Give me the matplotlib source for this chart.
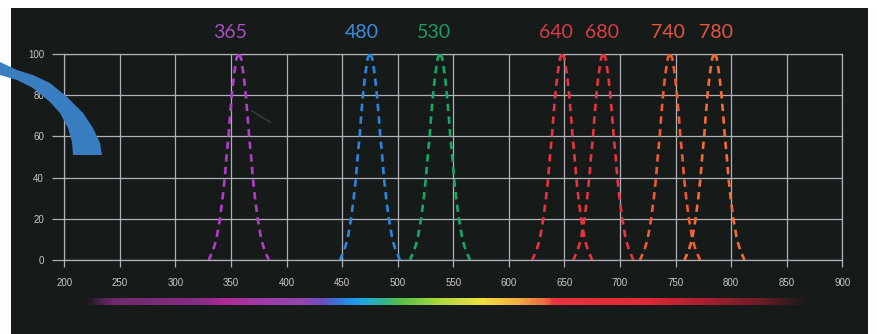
import numpy as np
import matplotlib
matplotlib.use("Agg")
import matplotlib.pyplot as plt
from matplotlib.patches import Rectangle, Polygon
from matplotlib.colors import LinearSegmentedColormap

# peak positions as they sit on the axis, and the labels printed above them
peak_centers = [357, 475, 538, 648, 685, 745, 785]
peak_labels = ['365', '480', '530', '640', '680', '740', '780']
label_x = [349, 468, 533, 642, 684, 743, 786]
line_colors = ['#b23ccc', '#2a85e0', '#14a865', '#e8323e', '#e8323e', '#f25a2e', '#f46a32']
label_colors = ['#a650c4', '#3a8ede', '#1a9e62', '#dc3c48', '#dc3c48', '#e25540', '#e25540']

# shape of one peak (offset in nm, intensity)
profile_offset = [-27, -23, -20.2, -17, -14.6, -12.6, -11.1, -9.3, -7.9, -6.3, -4.3, -2, 0,
                  2, 4.3, 6.3, 7.9, 9.3, 11.1, 12.6, 14.6, 17, 20.2, 23, 27]
profile_level = [0, 5, 10, 20, 30, 40, 50, 60, 70, 80, 90, 98, 100,
                 98, 90, 80, 70, 60, 50, 40, 30, 20, 10, 5, 0]

x_ticks = [200, 250, 300, 350, 400, 450, 500, 550, 600, 650, 700, 750, 800, 850, 900]
y_ticks = [0, 20, 40, 60, 80, 100]

# colour stops of the spectrum strip under the chart
spectrum_stops = [(0.0, '#1c1a1c'), (0.035, '#6e2a6c'), (0.16, '#8a2c86'), (0.19, '#b02896'),
                  (0.245, '#a03ca6'), (0.3, '#9446b0'), (0.33, '#6a50c2'), (0.355, '#2e7ee0'),
                  (0.382, '#20a6e6'), (0.41, '#2eb29a'), (0.44, '#5cc044'), (0.49, '#a8d840'),
                  (0.55, '#f0e040'), (0.6, '#f0b040'), (0.64, '#ee6a40'), (0.652, '#e8343e'),
                  (0.78, '#e22838'), (0.86, '#a82030'), (0.94, '#6e1c26'), (1.0, '#1e1a1c')]

W, H = 877, 334
grid_c = '#b0b0b8'
bg_c = '#161a19'

fig = plt.figure(figsize=(W / 100, H / 100), dpi=100, facecolor='white')

def fx(px):
    return px / W

def fy(py):
    return 1 - py / H

# dark panel of the photographed chart
fig.patches.append(Rectangle((fx(11), 0), fx(868 - 11), 1 - 8 / H,
                             transform=fig.transFigure, facecolor=bg_c,
                             edgecolor='none', zorder=-5))

ax = fig.add_axes([fx(64.3), fy(260), fx(842.3 - 64.3), (260 - 54) / H])
ax.set_zorder(1)
ax.set_facecolor('none')
ax.set_xlim(200, 900)
ax.set_ylim(0, 100)
ax.set_xticks(x_ticks)
ax.set_yticks(y_ticks)
ax.grid(True, color=grid_c, lw=0.9)
for s in ax.spines.values():
    s.set_color(grid_c)
    s.set_linewidth(0.9)
ax.tick_params(axis='x', direction='out', length=5, width=0.9, color=grid_c,
               labelcolor='#c8c8c8', labelsize=7, pad=8)
ax.tick_params(axis='y', direction='out', length=8.6, width=0.9, color=grid_c,
               labelcolor='#c8c8c8', labelsize=7, pad=6)
for lab in ax.get_xticklabels() + ax.get_yticklabels():
    lab.set_family('Liberation Sans')

offs = np.array(profile_offset)
lev = np.array(profile_level)
top = int(np.argmax(lev))
for c, lc in zip(peak_centers, line_colors):
    # draw each flank from the tip down so the dashes sit the same on both sides
    ax.plot(c + offs[top::-1], lev[top::-1], color=lc, lw=1.9, dashes=(2.8, 2.0), zorder=3)
    ax.plot(c + offs[top:], lev[top:], color=lc, lw=1.9, dashes=(2.8, 2.0), zorder=3)

for lx, txt, tc in zip(label_x, peak_labels, label_colors):
    ax.text(lx, 110.2, txt, color=tc, fontsize=14, family='Lato',
            ha='center', va='center', clip_on=False)

# spectrum strip
cmap = LinearSegmentedColormap.from_list('spec', spectrum_stops)
sax = fig.add_axes([fx(85), fy(305), fx(805 - 85), 7.5 / H])
sax.set_zorder(1)
sax.imshow(np.linspace(0, 1, 400)[None, :], aspect='auto', cmap=cmap)
sax.axis('off')

# blue curved band at top left
upper = [(0, 62), (17, 70), (33, 75), (50, 83), (67, 97), (83, 113), (93, 128),
         (100, 143), (102, 155)]
lower = [(73, 155), (72, 142), (68, 128), (60, 113), (50, 102), (33, 88), (17, 80), (0, 75)]
pts = [(fx(x), fy(y)) for x, y in upper + lower]
fig.patches.append(Polygon(pts, closed=True, transform=fig.transFigure,
                           facecolor='#3a7ec2', edgecolor='none', zorder=5))

# faint smudge in the photo
fig.add_artist(plt.Line2D([fx(252), fx(270)], [fy(111), fy(122)],
                          transform=fig.transFigure, color='#4c5050', lw=1.2, alpha=0.6,
                          zorder=2))

fig.savefig('out.png', dpi=100, facecolor='white')
